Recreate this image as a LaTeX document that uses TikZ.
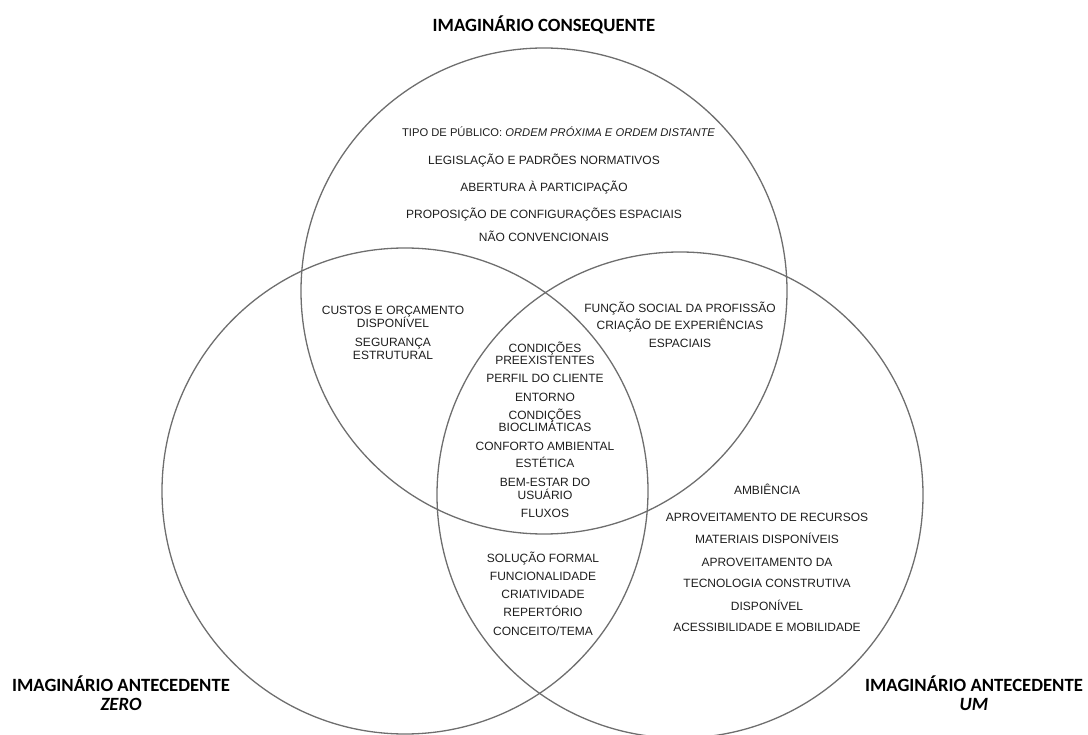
\documentclass[tikz,border=0pt]{standalone}
\usepackage{fontspec}
\setmainfont{Liberation Sans}
\newfontfamily\titlefont{Carlito}
\definecolor{ringgray}{RGB}{110,110,110}
\definecolor{textgray}{RGB}{30,30,30}
\begin{document}
\begin{tikzpicture}[x=1pt,y=-1pt,
  ring/.style={draw=ringgray,line width=1.3pt},
  lbl/.style={font=\fontsize{12}{13}\selectfont,text=textgray,anchor=base,inner sep=0pt},
  ttl/.style={font=\titlefont\bfseries\fontsize{18.7}{18.7}\selectfont,anchor=base,inner sep=0pt}]
\useasboundingbox (0,0) rectangle (1088,735);
\clip (0,0) rectangle (1088,735);

% the three sets
\draw[ring] (544,291) circle[radius=243];
\draw[ring] (405,491) circle[radius=243];
\draw[ring] (680,495) circle[radius=243];

% set titles
\node[ttl] (tcons) at (544,32) {IMAGINÁRIO CONSEQUENTE};
\node[ttl] (tzero) at (121,691) {IMAGINÁRIO ANTECEDENTE};
\node[ttl] (tzeroB) at (121,710) {\itshape ZERO};
\node[ttl] (tum) at (974,691) {IMAGINÁRIO ANTECEDENTE};
\node[ttl] (tumB) at (974,710) {\itshape UM};

% consequent only
\node[lbl,font=\fontsize{11.2}{13}\selectfont] (k1) at (558.5,137) {TIPO DE PÚBLICO: \itshape ORDEM PRÓXIMA E ORDEM DISTANTE};
\foreach \y/\t [count=\i from 2] in {160/LEGISLAÇÃO E PADRÕES NORMATIVOS,187/ABERTURA À PARTICIPAÇÃO,214/PROPOSIÇÃO DE CONFIGURAÇÕES ESPACIAIS,237/NÃO CONVENCIONAIS}
  \node[lbl] (k\i) at (544,\y+4.3) {\t};

% consequent and zero
\foreach \y/\t [count=\i] in {310/CUSTOS E ORÇAMENTO,323/DISPONÍVEL,342/SEGURANÇA,355/ESTRUTURAL}
  \node[lbl] (kz\i) at (393,\y+4.3) {\t};

% consequent and um
\foreach \y/\t [count=\i] in {308/FUNÇÃO SOCIAL DA PROFISSÃO,325/CRIAÇÃO DE EXPERIÊNCIAS,343/ESPACIAIS}
  \node[lbl] (ku\i) at (680,\y+4.3) {\t};

% all three
\foreach \y/\t [count=\i] in {348/CONDIÇÕES,360/PREEXISTENTES,378/PERFIL DO CLIENTE,397/ENTORNO,415/CONDIÇÕES,427/BIOCLIMÁTICAS,446/CONFORTO AMBIENTAL,463/ESTÉTICA,482/BEM-ESTAR DO,495/USUÁRIO,513/FLUXOS}
  \node[lbl] (a\i) at (545,\y+4.3) {\t};

% zero and um
\foreach \y/\t [count=\i] in {558/SOLUÇÃO FORMAL,576/FUNCIONALIDADE,594/CRIATIVIDADE,612/REPERTÓRIO,631/{CONCEITO/TEMA}}
  \node[lbl] (zu\i) at (543,\y+4.3) {\t};

% um only
\foreach \y/\t [count=\i] in {490/AMBIÊNCIA,517/APROVEITAMENTO DE RECURSOS,539/MATERIAIS DISPONÍVEIS,562/APROVEITAMENTO DA,583/TECNOLOGIA CONSTRUTIVA,606/DISPONÍVEL,627/ACESSIBILIDADE E MOBILIDADE}
  \node[lbl] (u\i) at (767,\y+4.3) {\t};
\end{tikzpicture}
\end{document}
